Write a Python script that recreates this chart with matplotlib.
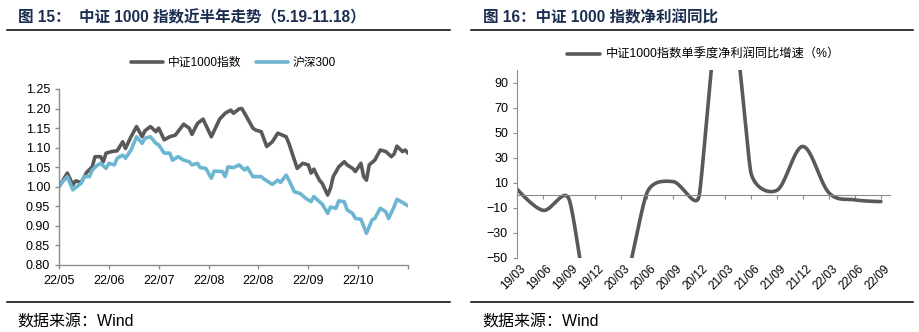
import matplotlib
matplotlib.use('Agg')
import matplotlib.pyplot as plt
import numpy as np

plt.rcParams['font.family'] = ['Liberation Sans', 'Noto Sans CJK SC']

# fig 15: trading-day index since 5.19, normalised close
csi1000_day = [0, 3, 5, 6, 8, 10, 12, 13, 15, 16, 17, 19, 21, 23, 24, 26, 28, 30, 31, 33,
               35, 36, 38, 40, 42, 45, 47, 48, 50, 52, 55, 57, 58, 60, 62, 63, 65, 66, 67, 70,
               71, 73, 75, 77, 79, 82, 83, 85, 86, 88, 90, 91, 92, 94, 95, 97, 98, 99, 101, 103,
               104, 106, 107, 109, 110, 111, 112, 114, 116, 118, 120, 121, 122, 124, 125, 126]
csi1000_val = [1.000, 1.035, 1.005, 1.015, 1.011, 1.037, 1.051, 1.077, 1.077, 1.064, 1.086, 1.090,
               1.092, 1.115, 1.098, 1.128, 1.154, 1.128, 1.143, 1.154, 1.141, 1.150, 1.120, 1.128,
               1.132, 1.160, 1.150, 1.134, 1.162, 1.173, 1.128, 1.158, 1.173, 1.188, 1.196, 1.188,
               1.199, 1.200, 1.188, 1.150, 1.145, 1.141, 1.103, 1.115, 1.137, 1.128, 1.111, 1.068,
               1.047, 1.060, 1.056, 1.035, 1.045, 1.017, 1.009, 0.979, 0.996, 1.026, 1.051, 1.064,
               1.056, 1.047, 1.039, 1.060, 1.026, 1.017, 1.056, 1.068, 1.094, 1.090, 1.077, 1.084,
               1.104, 1.090, 1.094, 1.086]
hs300_day = [0, 3, 5, 6, 8, 9, 11, 12, 14, 15, 17, 18, 20, 21, 23, 24, 26, 28, 30, 31,
             33, 35, 36, 38, 40, 41, 43, 45, 47, 48, 50, 51, 53, 55, 56, 59, 60, 61, 63, 65,
             67, 68, 70, 73, 74, 77, 79, 80, 82, 83, 85, 87, 89, 91, 92, 94, 95, 97, 98, 100,
             101, 103, 104, 106, 107, 109, 111, 113, 114, 116, 118, 119, 121, 122, 124, 126]
hs300_val = [1.003, 1.026, 0.992, 0.998, 1.009, 1.026, 1.026, 1.043, 1.056, 1.060, 1.047, 1.060,
             1.056, 1.073, 1.081, 1.073, 1.094, 1.128, 1.111, 1.124, 1.128, 1.111, 1.107, 1.086,
             1.086, 1.068, 1.077, 1.068, 1.064, 1.056, 1.060, 1.049, 1.047, 1.022, 1.040, 1.039,
             1.026, 1.051, 1.049, 1.056, 1.043, 1.049, 1.026, 1.026, 1.020, 1.006, 1.017, 1.011,
             1.030, 1.017, 0.987, 0.983, 0.971, 0.962, 0.975, 0.962, 0.956, 0.932, 0.948, 0.945,
             0.964, 0.962, 0.941, 0.932, 0.919, 0.917, 0.881, 0.915, 0.919, 0.945, 0.936, 0.919,
             0.949, 0.968, 0.960, 0.951]
month_labels = ['22/05', '22/06', '22/07', '22/08', '22/08', '22/09', '22/10', '']

# fig 16: quarterly net profit yoy (%)
quarters = ['19/03', '19/06', '19/09', '19/12', '20/03', '20/06', '20/09', '20/12',
            '21/03', '21/06', '21/09', '21/12', '22/03', '22/06', '22/09']
profit_yoy = [5, -12, -3, -110, -85, 2, 11, -1, 175, 18, 4, 39, 2, -3.6, -5]

navy = '#1B2E50'
gray = '#595959'
blue = '#6DB6D2'
spine = '#8C8C8C'


def excel_smooth(x, y, sx, sy, n=40):
    # bezier smoothing similar to a "smoothed line" in excel
    P = np.column_stack([np.asarray(x, float) * sx, np.asarray(y, float) * sy])
    m = len(P)
    tang = np.zeros_like(P)
    for i in range(1, m - 1):
        d01 = np.linalg.norm(P[i] - P[i - 1])
        d12 = np.linalg.norm(P[i + 1] - P[i])
        d02 = np.linalg.norm(P[i + 1] - P[i - 1])
        f = min(1 / 6, d01 / (2 * d02), d12 / (2 * d02))
        tang[i] = (P[i + 1] - P[i - 1]) * f
    pts = [P[0]]
    t = np.linspace(0, 1, n)[1:, None]
    for i in range(m - 1):
        c1 = P[i] + tang[i]
        c2 = P[i + 1] - tang[i + 1]
        B = (1 - t) ** 3 * P[i] + 3 * (1 - t) ** 2 * t * c1 + 3 * (1 - t) * t ** 2 * c2 + t ** 3 * P[i + 1]
        pts.extend(B)
    pts = np.array(pts)
    return pts[:, 0] / sx, pts[:, 1] / sy


fig = plt.figure(figsize=(9.2, 3.32), dpi=100)
W, H = 920, 332


def fx(px):
    return px / W


def fy(py):
    return 1 - py / H


# ---- headers / footers
fig.text(fx(18), fy(18), '图 15：  中证 1000 指数近半年走势（5.19-11.18）', fontsize=11.2,
         fontweight='bold', color=navy, va='center', ha='left')
fig.text(fx(483), fy(18), '图 16：中证 1000 指数净利润同比', fontsize=11.2,
         fontweight='bold', color=navy, va='center', ha='left')
for x0, x1 in [(7, 450), (471, 913)]:
    fig.add_artist(plt.Line2D([fx(x0), fx(x1)], [fy(30), fy(30)], color='black', lw=1.1))
    fig.add_artist(plt.Line2D([fx(x0), fx(x1)], [fy(302), fy(302)], color='black', lw=1.1))
fig.text(fx(17), fy(322), '数据来源：Wind', fontsize=11.5, va='center', ha='left')
fig.text(fx(482), fy(322), '数据来源：Wind', fontsize=11.5, va='center', ha='left')

# ---- left chart
ax1 = fig.add_axes([fx(59), fy(265), (408 - 59) / W, (265 - 89) / H])
ax1.plot(csi1000_day, csi1000_val, color=gray, lw=2.6, solid_joinstyle='round',
         solid_capstyle='round', label='中证1000指数')
ax1.plot(hs300_day, hs300_val, color=blue, lw=2.6, solid_joinstyle='round',
         solid_capstyle='round', label='沪深300')
ax1.set_xlim(0, 126)
ax1.set_ylim(0.80, 1.25)
ax1.set_yticks(np.arange(0.80, 1.251, 0.05))
ax1.set_yticklabels([f'{v:.2f}' for v in np.arange(0.80, 1.251, 0.05)])
ax1.set_xticks(np.arange(0, 127, 18))
ax1.set_xticklabels(month_labels)
for s in ['top', 'right']:
    ax1.spines[s].set_visible(False)
for s in ['left', 'bottom']:
    ax1.spines[s].set_color(spine)
    ax1.spines[s].set_linewidth(1.0)
ax1.tick_params(axis='both', colors=spine, labelcolor='black', labelsize=9, length=3, width=1)
ax1.tick_params(axis='x', pad=4)
ax1.legend(loc='center', bbox_to_anchor=(0.5, 1 + (89 - 63) / 176), ncol=2, frameon=False,
           fontsize=8.5, handlelength=2.7, handletextpad=0.4, columnspacing=1.3)

# ---- right chart
ax2 = fig.add_axes([fx(517), fy(258), (890 - 517) / W, (258 - 70) / H])
qx = np.arange(len(quarters))
sx_, sy_ = excel_smooth(qx, profit_yoy, 26.0, 188 / 150)
ax2.plot(sx_, sy_, color=gray, lw=2.6, solid_capstyle='round', label='中证1000指数单季度净利润同比增速（%）')
ax2.set_xlim(0, 14.35)
ax2.set_ylim(-50, 100)
ax2.set_yticks(np.arange(-50, 91, 20))
ax2.spines['top'].set_visible(False)
ax2.spines['right'].set_visible(False)
ax2.spines['left'].set_color(spine)
ax2.spines['bottom'].set_color(spine)
ax2.spines['bottom'].set_position(('data', 0))
ax2.set_xticks(qx[1:])
ax2.tick_params(axis='x', labelbottom=False, colors=spine, length=3, direction='out')
ax2.tick_params(axis='y', colors=spine, labelcolor='black', labelsize=9, length=3)
for i, q in enumerate(quarters):
    ax2.text(i + 0.1, -0.025, q, transform=ax2.get_xaxis_transform(), rotation=45,
             ha='right', va='top', fontsize=8.5, rotation_mode='anchor')
ax2.legend(loc='center', bbox_to_anchor=(0.5, 1 + (70 - 55) / 188), frameon=False,
           fontsize=8.8, handlelength=2.7, handletextpad=0.4)

fig.savefig('out.png', dpi=100)
